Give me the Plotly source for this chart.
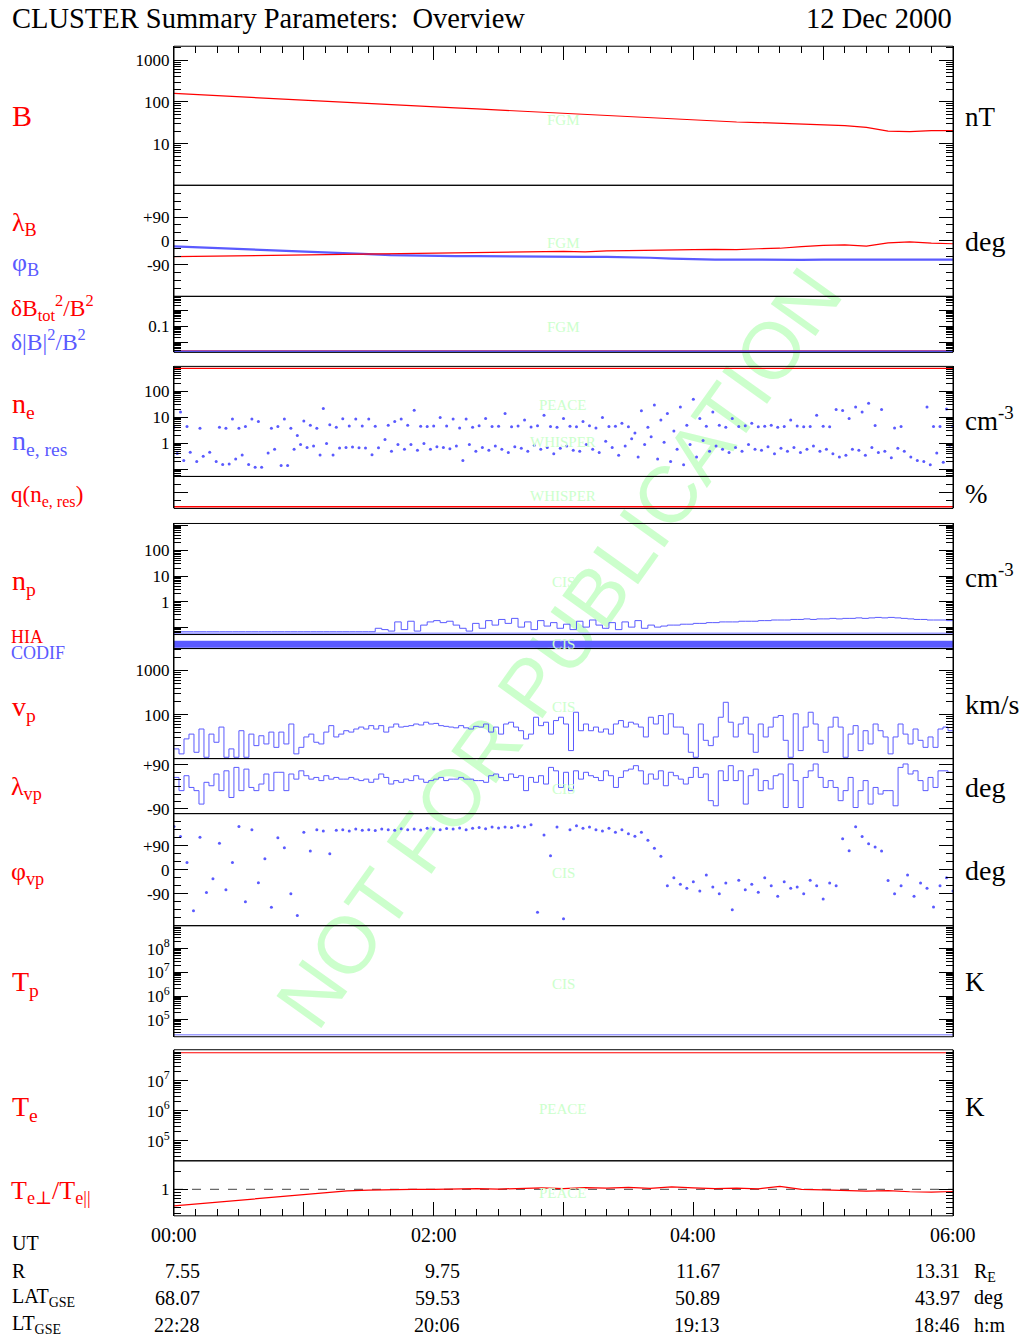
import math
import numpy as np
import plotly.graph_objects as go

W, H = 1023, 1337
SERIF = "Liberation Serif, Times New Roman, DejaVu Serif, serif"
SANS = "Liberation Sans, Arial, DejaVu Sans, sans-serif"
RED = "#ff0000"
BLUE = "#5a5aff"
LBLUE = "#a0a0ff"
GREEN = "#ccffcc"

# ---------------- data ----------------
t10 = [round(i / 6, 4) for i in range(37)]          # 10-min grid (hours)
t3 = [round(i * 0.05, 4) for i in range(121)]        # 3-min grid (hours)
t_cis = [round(i * 6 / 156, 5) for i in range(157)]  # CIS moment grid (hours)

B_nT = [160, 150, 141, 133, 125, 117, 110, 104, 98, 92, 86, 81, 76, 72, 68, 64, 60, 56, 53, 50,
        47, 44.5, 42, 39.5, 37, 35.5, 33, 32, 30.5, 29, 28.5, 27, 24.5, 20, 19.5, 20.5, 20.5]
lamB = [-60, -59, -58, -57, -56, -55, -54, -53, -52, -51, -50, -48, -47, -46, -45, -44, -42, -41, -40, -42,
        -38, -37, -35, -34, -33, -32, -33, -30, -28, -22, -17, -15, -20, -8, -4, -9, -11]
phiB = [-21, -24, -27, -30, -33, -36, -40, -43, -47, -50, -54, -56, -57, -58, -58, -59, -59, -60, -60, -61,
        -61, -62, -64, -67, -70, -71, -71, -72, -72, -72, -71, -71, -71, -71, -70, -71, -71]
t_flat = [0, 6]
dBtot = [0.0029, 0.0029]
dBmag = [0.0028, 0.0028]
ne = [760, 760]
q_ne = [5, 5]
Tp = [23000, 23000]
Te = [8.5e7, 8.5e7]
np_codif = [0.057, 0.057]
ratio_ref = [1, 1]

ne_res_hi = [4.2, 16, 4.5, None, 3.8, None, None, 4.2, 3.8, 8.6,
             3.8, 4.5, 8.6, 7, None, 3.8, 4.5, 8.6, 3.8, 2.0,
             7.2, 5, 3.8, 22, 5.2, 4.2, 8.8, 4.7, 8.6, 4.7,
             8.6, 4.6, None, 5, 7, 8.6, 5, 19, 4.6, 4.5,
             4.7, 10, 4.7, 8.6, 3.9, 8.6, 4.2, 4.8, 9, 4.5,
             4.6, 14, 4.4, 4.7, 8, 4.3, 4.8, 12, 4.5, 4.2,
             9, 4.6, 4.4, 7, 4.8, 3.9, 10, 4.5, 4.6, 6,
             4.4, 2.5, 18, 4.2, 30, 8, 14, 3, 25, 5,
             50, 9, 4.6, 16, 5, 4.2, 9, 4.5, 4.8, 6,
             4.4, 4.6, 5, 4.2, 4.5, 8, 4.7, 4.4, 4.5, 12,
             4.6, 4.4, 20, 18.5, 9, 25, 16, 35, 4.9, 20,
             None, 3.9, 4.5, None, None, None, 25, 4.5, 4.5, 21,
             4.6]
ne_res_lo = [0.41, 0.22, 0.46, 0.2, 0.32, 0.46, 0.2, 0.155, 0.16, 0.25,
             0.36, 0.155, 0.12, 0.12, 0.43, 0.59, 0.14, 0.14, 0.59, 0.9,
             0.7, 0.8, 0.36, 1.0, 0.36, 0.66, 0.7, 0.72, 0.68, 0.66,
             0.37, 0.68, 1.4, 0.5, 0.9, 0.6, 0.9, 0.55, 1.0, 0.6,
             0.75, 0.7, 0.62, 0.8, 0.22, 0.9, 0.5, 0.7, 0.55, 0.8,
             0.6, 0.45, 0.75, 0.65, 0.5, 0.85, 0.6, 0.7, 0.4, 0.65,
             0.8, 0.55, 0.5, 0.9, 0.6, 0.45, 1.2, 0.7, 0.35, 0.8,
             1.5, 0.3, 0.9, 1.8, 0.25, 1.1, 0.2, 0.6, 0.15, 0.9,
             0.3, 1.3, 0.5, 0.8, 0.6, 0.45, 0.7, 0.5, 0.9, 0.6,
             0.55, 0.75, 0.4, 0.65, 0.5, 0.7, 0.45, 0.6, 0.8, 0.5,
             0.6, 0.4, 0.3, 0.35, 0.6, 0.55, 0.35, 0.7, 0.45, 0.5,
             0.28, 0.65, 0.5, 0.3, 0.22, 0.2, 0.15, 0.43, 0.19, 0.85,
             0.6]

np_hia = [0.066] * 31 + [
    0.09, 0.08, 0.07, 0.16, 0.08, 0.17, 0.07, 0.12, 0.16, 0.18,
    0.15, 0.17, 0.12, 0.09, 0.07, 0.14, 0.09, 0.18, 0.12, 0.2,
    0.14, 0.22, 0.1, 0.16, 0.08, 0.18, 0.11, 0.15, 0.09, 0.13,
    0.08, 0.17, 0.1, 0.19, 0.12, 0.09, 0.15, 0.08, 0.16, 0.1,
    0.18, 0.09, 0.12, 0.1, 0.11, 0.12, 0.12, 0.13, 0.13, 0.14,
    0.14, 0.15, 0.15, 0.16, 0.16, 0.16, 0.17, 0.17, 0.17, 0.18,
    0.18, 0.19, 0.19, 0.19, 0.2, 0.2, 0.21, 0.2, 0.21, 0.21,
    0.22, 0.21, 0.22, 0.22, 0.23, 0.22, 0.23, 0.24, 0.23, 0.24,
    0.23, 0.22, 0.21, 0.2, 0.2, 0.19, 0.19, 0.19, 0.18, 0.18]

vp = [16.6, 12.8, 28, 36, 13.9, 47, 10.7, 36, 23.5, 52,
      10.7, 16.6, 10.7, 43, 10.7, 36, 19.7, 33, 21.5, 40,
      18, 40, 21.5, 61, 12.8, 18, 31, 36, 23.5, 21.5,
      40, 56, 31, 36, 43, 40, 47, 52, 47, 56,
      47, 56, 40, 52, 61, 52, 54, 56, 61, 58,
      67, 61, 63, 56, 54, 52, 50, 56, 50, 47,
      54, 52, 61, 40, 52, 36, 61, 67, 52, 43,
      28, 36, 87, 56, 67, 36, 73, 87, 61, 15.2,
      113, 43, 61, 43, 52, 40, 47, 36, 61, 73,
      52, 67, 61, 52, 31, 87, 61, 95, 36, 104,
      52, 52, 36, 13.9, 10.7, 61, 26, 19.7, 31, 87,
      190, 67, 31, 61, 87, 36, 13.9, 61, 31, 52,
      87, 95, 26, 10.7, 104, 15.2, 52, 113, 61, 26,
      13.9, 52, 87, 52, 10.7, 36, 56, 15.2, 43, 21.5,
      61, 43, 31, 12.8, 31, 61, 36, 21.5, 47, 26,
      18, 31, 18, 47, 52, 43, 43]
lam_vp = [38, -16, 45, -3, -16, -71, 18, 4, 52, -16,
          65, -44, 79, -16, 72, -3, -16, 11, 52, -16,
          59, 59, -16, 52, 31, 65, 45, 31, 38, 25,
          45, 31, 38, 31, 31, 38, 31, 25, 31, 18,
          31, 52, 38, 11, 25, 18, 31, 25, 45, 31,
          18, 25, 31, 38, 25, 31, 31, 38, 31, 31,
          25, 25, 18, 45, 52, 38, 25, 52, 38, 45,
          -16, 38, 18, 45, 11, 79, 65, -3, 59, -16,
          65, 31, 59, 45, 38, 25, 65, 45, -3, 38,
          65, 72, 86, 65, 11, 52, 31, 65, 4, 59,
          45, 31, 11, 38, 79, 38, 52, -57, -78, 65,
          25, 86, 25, 65, -71, 45, 72, -16, 25, -9,
          45, 52, -85, 93, 25, -85, 38, 65, 93, 38,
          -3, 25, -3, -57, -16, 38, -85, -16, 25, -71,
          -3, -30, -16, -16, -78, 79, 93, 52, 65, 25,
          -16, 38, -3, 65, 65, 59, 59]
phi_vp = [162, 124, 27, -154, 121, -86, -34, 99, -75, 27,
          162, -120, 150, -49, 41, -141, 120, 82, -90, -172,
          140, 70, 150, 145, 60, 148, 150, 145, 152, 148,
          150, 147, 152, 150, 148, 153, 150, 152, 149, 155,
          152, 150, 154, 152, 156, 150, 155, 158, 153, 160,
          156, 160, 158, 165, 160, 168, -160, 130, 52, 160,
          -184, 150, 165, 155, 160, 150, 145, 155, 140, 150,
          135, 125, 140, 110, 80, 50, -60, -30, -55, -70,
          -45, -80, -20, -65, -90, -50, -150, -40, -75, -55,
          -85, -30, -60, -100, -45, -70, -65, -90, -40, -60,
          -110, -50, -60, 116, 71, 161, 124, 97, 85, 70,
          -41, -90, -60, -20, -100, -50, -70, -140, -60, -30,
          -80]
Te_ratio = [0.53, 0.57, 0.61, 0.66, 0.72, 0.77, 0.83, 0.89, 0.94, 0.97,
            0.99, 1.0, 1.0, 1.02, 1.03, 1.01, 1.04, 1.06, 1.03, 1.07,
            1.05, 1.08, 1.04, 1.1, 1.06, 1.03, 1.05, 1.02, 1.12, 1.0,
            0.98, 0.96, 0.93, 0.95, 0.91, 0.9, 0.92]

ut_labels = ["00:00", "02:00", "04:00", "06:00"]
ut_hours = [0, 2, 4, 6]
R_vals = ["7.55", "9.75", "11.67", "13.31"]
LAT_vals = ["68.07", "59.53", "50.89", "43.97"]
LT_vals = ["22:28", "20:06", "19:13", "18:46"]

# ---------------- layout helpers ----------------
X0, X1 = 174, 953
# small vertical calibration so that page pixels land where intended
VA, VB = 0.9935, 2.8


def py(y):
    return 1 - ((y - VB) / VA) / H


def pxx(x):
    return x / W


def log_minors(lo, hi):
    out = []
    for n in range(math.floor(lo) - 1, math.ceil(hi) + 1):
        for k in range(2, 10):
            v = k * 10 ** n
            if 10 ** lo < v < 10 ** hi:
                out.append(v)
    return out


def lin_minors(lo, hi, step, skip):
    out = []
    v = math.ceil(lo / step) * step
    while v < hi:
        if v not in skip:
            out.append(v)
        v += step
    return out


panels = {
    1: (46, 185), 2: (185, 296), 3: (296, 352),
    4: (366, 476), 5: (476, 508),
    6: (523, 634), 7: (634, 648), 8: (648, 758), 9: (758, 813), 10: (813, 925), 11: (925, 1036),
    12: (1049, 1160), 13: (1160, 1215),
}

axes_spec = {
    1: dict(type="log", range=[0, 3.337], tv=[10, 100, 1000], tt=["10", "100", "1000"]),
    2: dict(type="linear", range=[-210, 210], tv=[-90, 0, 90], tt=["-90", "0", "+90"], mstep=30),
    3: dict(type="log", range=[-2.625, 0.875], tv=[0.01, 0.1, 1], tt=["", "0.1", ""]),
    4: dict(type="log", range=[-1.27, 2.96], tv=[0.1, 1, 10, 100], tt=["", "1", "10", "100"]),
    5: dict(type="linear", range=[0, 100], tv=[50], tt=[""], mstep=25),
    6: dict(type="log", range=[-1.29, 3.06], tv=[0.1, 1, 10, 100, 1000], tt=["", "1", "10", "100", ""]),
    7: dict(type="linear", range=[0, 1], tv=[], tt=[]),
    8: dict(type="log", range=[1, 3.5], tv=[100, 1000], tt=["100", "1000"]),
    9: dict(type="linear", range=[-110, 115], tv=[-90, 90], tt=["-90", "+90"], mstep=30),
    10: dict(type="linear", range=[-210, 210], tv=[-90, 0, 90], tt=["-90", "0", "+90"], mstep=30),
    11: dict(type="log", range=[4.28, 8.97], tv=[1e5, 1e6, 1e7, 1e8],
              tt=["10<sup>5</sup>", "10<sup>6</sup>", "10<sup>7</sup>", "10<sup>8</sup>"]),
    12: dict(type="log", range=[4.33, 8.03], tv=[1e5, 1e6, 1e7, 1e8],
              tt=["10<sup>5</sup>", "10<sup>6</sup>", "10<sup>7</sup>", ""]),
    13: dict(type="log", range=[-0.442, 0.475], tv=[1], tt=["1"]),
}

layout = dict(width=W, height=H, autosize=False, margin=dict(l=0, r=0, t=0, b=0),
              paper_bgcolor="white", plot_bgcolor="rgba(0,0,0,0)", showlegend=False,
              hovermode=False)

for n, (top, bot) in panels.items():
    s = axes_spec[n]
    if s["type"] == "log":
        minors = log_minors(s["range"][0], s["range"][1])
    elif "mstep" in s:
        minors = lin_minors(s["range"][0], s["range"][1], s["mstep"], s["tv"])
    else:
        minors = []
    ax = dict(domain=[py(bot), py(top)], range=s["range"], type=s["type"], anchor="x",
              showline=True, linecolor="black", linewidth=1, mirror="ticks",
              ticks="inside", ticklen=14, tickwidth=1, tickcolor="black",
              tickmode="array", tickvals=s["tv"], ticktext=s["tt"],
              tickfont=dict(family=SERIF, size=17, color="black"),
              showgrid=False, zeroline=False, fixedrange=True,
              minor=dict(tickmode="array", tickvals=minors, ticks="inside", ticklen=7,
                         tickwidth=1, tickcolor="black", showgrid=False))
    layout["yaxis" if n == 1 else f"yaxis{n}"] = ax

xcommon = dict(range=[0, 6], domain=[pxx(X0), pxx(X1)], ticks="inside", ticklen=14, tickwidth=1,
               tickcolor="black", tickmode="linear", tick0=0, dtick=1, showticklabels=False,
               showgrid=False, zeroline=False, fixedrange=True, showline=False,
               minor=dict(tickmode="linear", tick0=0, dtick=1 / 6, ticks="inside", ticklen=7,
                          tickwidth=1, tickcolor="black", showgrid=False))
layout["xaxis"] = dict(anchor="y13", side="bottom", **xcommon)
layout["xaxis2"] = dict(anchor="y", side="top", overlaying="x", **xcommon)

fig = go.Figure(layout=layout)


def yref(n):
    return "y" if n == 1 else f"y{n}"


def line(x, y, n, color, width=1, shape="linear", dash="solid"):
    fig.add_trace(go.Scatter(x=x, y=y, mode="lines", xaxis="x", yaxis=yref(n),
                             line=dict(color=color, width=width, shape=shape, dash=dash),
                             hoverinfo="skip", connectgaps=False))


def dots(x, y, n, color, size=3):
    fig.add_trace(go.Scatter(x=x, y=y, mode="markers", xaxis="x", yaxis=yref(n),
                             marker=dict(color=color, size=size, symbol="circle"),
                             hoverinfo="skip"))


# invisible trace to activate the top axis
fig.add_trace(go.Scatter(x=[0, 6], y=[10, 10], mode="markers", xaxis="x2", yaxis="y",
                         marker=dict(opacity=0), hoverinfo="skip"))

line(t10, B_nT, 1, RED, 1.2)
line(t10, phiB, 2, BLUE, 2.2)
line(t10, lamB, 2, RED, 1.2)
line(t_flat, dBtot, 3, RED, 1.5)
line(t_flat, dBmag, 3, BLUE, 1.5)
line(t_flat, ne, 4, RED, 1.2)
dots(t3, ne_res_hi, 4, BLUE)
dots([t + 0.025 for t in t3], ne_res_lo, 4, BLUE)
line(t_flat, q_ne, 5, RED, 1.5)
line(t_flat, np_codif, 6, LBLUE, 1.5)
line(t3, np_hia, 6, BLUE, 1, shape="hv")
line(t_flat, [0.3, 0.3], 7, BLUE, 7)
line(t_cis, vp, 8, BLUE, 1, shape="hv")
line(t_cis, lam_vp, 9, BLUE, 1, shape="hv")
dots(t3, phi_vp, 10, BLUE)
line(t_flat, Tp, 11, LBLUE, 1.5)
line(t_flat, Te, 12, RED, 1.2)
line(t_flat, ratio_ref, 13, "#444444", 1, dash="dash")
line(t10, Te_ratio, 13, RED, 1.2)

shapes = []
# watermark (below data)
shapes.append(dict(type="line", xref="paper", yref="paper", x0=pxx(277), y0=py(1028),
                   x1=pxx(828), y1=py(257), line=dict(color="rgba(0,0,0,0)", width=0),
                   layer="below",
                   label=dict(text="NOT FOR PUBLICATION", textposition="middle",
                              yanchor="middle",
                              font=dict(family=SANS, size=80, color=GREEN))))
for n, (top, bot) in panels.items():
    shapes.append(dict(type="rect", xref="paper", yref="paper", x0=pxx(X0), x1=pxx(X1),
                       y0=py(bot), y1=py(top), line=dict(color="black", width=1),
                       fillcolor="rgba(0,0,0,0)", layer="above"))
fig.update_layout(shapes=shapes)

ann = []


def text(x, y, s, size, color="black", xanchor="left", family=SERIF):
    ann.append(dict(x=pxx(x), y=py(y), xref="paper", yref="paper", text=s, showarrow=False,
                    xanchor=xanchor, yanchor="middle",
                    font=dict(family=family, size=size, color=color)))


text(10, 18, "CLUSTER Summary Parameters:  Overview", 28.5)
text(954, 18, "12 Dec 2000", 28.5, xanchor="right")

# left labels
text(10, 115, "B", 30, RED)
text(10, 224, "λ<sub>B</sub>", 26, RED)
text(10, 264, "φ<sub>B</sub>", 26, BLUE)
text(9, 308, "δB<sub>tot</sub><sup>2</sup>/B<sup>2</sup>", 23.5, RED)
text(9, 340, "δ|B|<sup>2</sup>/B<sup>2</sup>", 23.5, BLUE)
text(10, 405, "n<sub>e</sub>", 28, RED)
text(10, 442, "n<sub>e, res</sub>", 28, BLUE)
text(9, 496, "q(n<sub>e, res</sub>)", 23, RED)
text(10, 582, "n<sub>p</sub>", 28, RED)
text(9, 636, "HIA", 18, RED)
text(9, 652, "CODIF", 18, BLUE)
text(10, 708, "v<sub>p</sub>", 28, RED)
text(9, 787, "λ<sub>vp</sub>", 26, RED)
text(9, 872, "φ<sub>vp</sub>", 26, RED)
text(10, 983, "T<sub>p</sub>", 28, RED)
text(10, 1108, "T<sub>e</sub>", 28, RED)
text(9, 1191, "T<sub>e⊥</sub>/T<sub>e||</sub>", 26, RED)

# right units
text(963, 117, "nT", 27)
text(963, 241, "deg", 28)
text(963, 419, "cm<sup>-3</sup>", 27)
text(963, 494, "%", 27)
text(963, 576, "cm<sup>-3</sup>", 27)
text(963, 704, "km/s", 28)
text(963, 787, "deg", 28)
text(963, 870, "deg", 28)
text(963, 981, "K", 27)
text(963, 1106, "K", 27)

# instrument tags
for (yy, s) in [(120, "FGM"), (243, "FGM"), (327, "FGM"), (405, "PEACE"), (442, "WHISPER"),
                (496, "WHISPER"), (581, "CIS"), (643, "CIS"), (706, "CIS"), (788, "CIS"),
                (872, "CIS"), (983, "CIS"), (1108, "PEACE"), (1192, "PEACE")]:
    text(563, yy, s, 15, GREEN, xanchor="center")

# bottom annotation rows
text(10, 1242, "UT", 20)
text(10, 1270, "R", 20)
text(10, 1297, "LAT<sub>GSE</sub>", 20)
text(10, 1324, "LT<sub>GSE</sub>", 20)
for h, lab in zip(ut_hours, ut_labels):
    text(X0 + (X1 - X0) * h / 6, 1234, lab, 20, xanchor="center")
right_edges = [202, 462, 722, 962]
for xe, r, la, lt in zip(right_edges, R_vals, LAT_vals, LT_vals):
    text(xe, 1270, r, 20, xanchor="right")
    text(xe, 1297, la, 20, xanchor="right")
    text(xe, 1324, lt, 20, xanchor="right")
text(972, 1272, "R<sub>E</sub>", 20)
text(972, 1297, "deg", 20)
text(972, 1324, "h:m", 20)

fig.update_layout(annotations=ann)
fig.write_html("out.html")
